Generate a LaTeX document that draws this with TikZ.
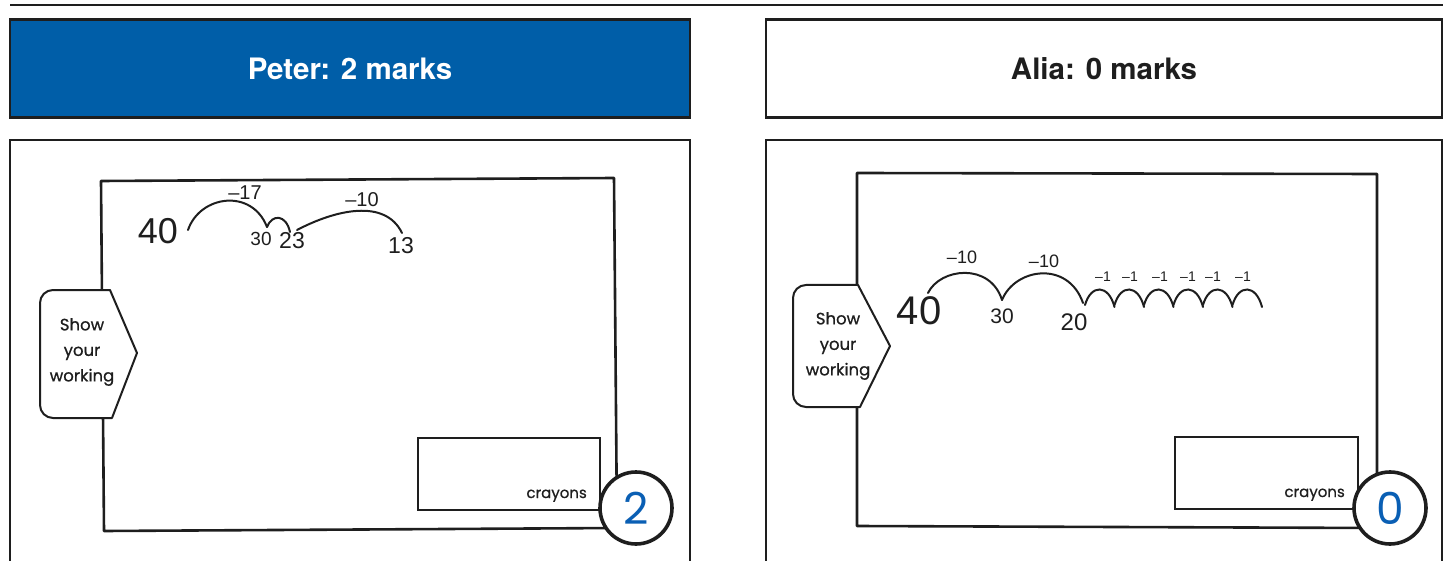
\documentclass[tikz,border=0pt]{standalone}
\usepackage{fontspec}
\setmainfont{TeX Gyre Heros}
\newfontfamily\kidfont{Poppins}[FakeBold=0.7]
\newfontfamily\numfont{Poppins}
\newfontfamily\handfont{Liberation Sans}
\definecolor{hdrblue}{HTML}{005EA8}
\definecolor{digblue}{HTML}{0A5FB4}
\definecolor{ink}{HTML}{1E1E1E}
\tikzset{
  hdrbox/.style={draw=ink, line width=1.2pt, minimum width=680, minimum height=97, inner sep=0pt,
    font=\bfseries\fontsize{29.5}{29.5}\selectfont},
  panel/.style={draw=ink, line width=2pt},
  sheet/.style={draw=ink, line width=2.6pt, line join=round},
  tabshape/.style={draw=ink, line width=2pt, fill=white, line join=round},
  tabtext/.style={align=center, inner sep=0pt, font=\kidfont\fontsize{16.5}{25.5}\selectfont, text=ink},
  crbox/.style={draw=ink, line width=2.8pt},
  crtext/.style={anchor=base east, inner sep=0pt, font=\kidfont\fontsize{15}{15}\selectfont, text=ink},
  markcircle/.style={circle, draw=ink, line width=3.6pt, fill=white, minimum size=72, inner sep=0pt,
    text=digblue, font=\numfont\fontsize{44}{44}\selectfont},
  hand/.style={inner sep=0pt, text=ink, font=\handfont},
  arc/.style={draw=ink, line width=2pt, line cap=round}
}
\begin{document}
\begin{tikzpicture}[x=1pt,y=-1pt]
\useasboundingbox (0,0) rectangle (1453,561);
% top rule
\draw[ink, line width=2.8pt] (10,5) -- (1443,5);
% headers
\node[hdrbox, fill=hdrblue, text=white] (hp) at (350,68.5) {Peter: 2 marks};
\node[hdrbox, fill=white, text=ink, minimum width=676] (ha) at (1104,68.5) {Alia: 0 marks};
\foreach \h in {hp,ha}{
  \draw[ink, line width=2.8pt] (\h.north west) -- (\h.north east);
  \draw[ink, line width=2.8pt] (\h.south west) -- (\h.south east);
}
% panels
\draw[panel] (10,570) -- (10,140) -- (690,140) -- (690,570);
\draw[panel] (766,570) -- (766,140) -- (1442,140) -- (1442,570);

% ---------- left sheet ----------
\draw[sheet] (101,181) -- (614,178) -- (617,528) -- (104,531) -- cycle;
\draw[tabshape] (40,303) to[out=90,in=180] (53,290) -- (110,290) -- (137,353) -- (112,418)
  -- (53,418) to[out=180,in=-90] (40,405) -- cycle;
\node[tabtext] (tl) at (82,352) {Show\\your\\working};
\node[crbox, minimum width=182, minimum height=72, inner sep=0pt] (cl) at (509,474) {};
\node[crtext] (ctl) at (587,498) {crayons};
\node[markcircle] (ml) at (636,508) {2};

% left handwriting
\node[hand, font=\handfont\fontsize{36}{36}\selectfont] (l40) at (158,231) {40};
\node[hand, font=\handfont\fontsize{20}{20}\selectfont] (l17) at (245,193) {–17};
\node[hand, font=\handfont\fontsize{20}{20}\selectfont] (l10) at (362,200) {–10};
\node[hand, font=\handfont\fontsize{19}{19}\selectfont] (l30) at (261,239) {30};
\node[hand, font=\handfont\fontsize{23}{23}\selectfont] (l23) at (292,241) {23};
\node[hand, font=\handfont\fontsize{23}{23}\selectfont] (l13) at (401,246) {13};
\coordinate (la) at (188,230);
\coordinate (lb) at (267,227);
\coordinate (lc) at (290,232);
\coordinate (ld) at (297,230);
\coordinate (le) at (402,233);
\draw[arc] (la) .. controls (200,195) and (252,188) .. (lb);
\draw[arc] (lb) .. controls (272,214) and (286,214) .. (lc);
\draw[arc] (ld) .. controls (335,210) and (385,198) .. (le);

% ---------- right sheet ----------
\draw[sheet] (857,173) -- (1377,174) -- (1377,528) -- (857,526) -- cycle;
\draw[tabshape] (793,298) to[out=90,in=180] (806,285) -- (858,285) -- (890,346) -- (860,407)
  -- (806,407) to[out=180,in=-90] (793,394) -- cycle;
\node[tabtext] (tr) at (838,346) {Show\\your\\working};
\node[crbox, minimum width=183, minimum height=72, inner sep=0pt] (cr) at (1266.5,473) {};
\node[crtext] (ctr) at (1345,497) {crayons};
\node[markcircle] (mr) at (1390,508) {0};

% right handwriting
\node[hand, font=\handfont\fontsize{40}{40}\selectfont] (r40) at (919,311) {40};
\node[hand, font=\handfont\fontsize{18}{18}\selectfont] (r10a) at (962,257) {–10};
\node[hand, font=\handfont\fontsize{18}{18}\selectfont] (r10b) at (1044,261) {–10};
\node[hand, font=\handfont\fontsize{21}{21}\selectfont] (r30) at (1002,316) {30};
\node[hand, font=\handfont\fontsize{24}{24}\selectfont] (r20) at (1074,322) {20};
\foreach \x [count=\i] in {1103,1130,1160,1188,1213,1243}{
  \node[hand, font=\handfont\fontsize{14}{14}\selectfont] (rm\i) at (\x,277) {–1};
}
\coordinate (ra) at (928,293);
\coordinate (rb) at (1002,300);
\coordinate (rc) at (1083,303);
\draw[arc] (ra) .. controls (940,268) and (990,262) .. (rb);
\draw[arc] (rb) .. controls (1015,268) and (1068,260) .. (rc);
\foreach \i in {0,...,5}{
  \pgfmathsetmacro{\xa}{1085+29.5*\i}
  \pgfmathsetmacro{\xb}{\xa+29.5}
  \coordinate (bs\i) at (\xa,305);
  \coordinate (be\i) at (\xb,307);
  \draw[arc] (bs\i) .. controls (\xa+6,284) and (\xb-6,284) .. (be\i);
}
\end{tikzpicture}
\end{document}
